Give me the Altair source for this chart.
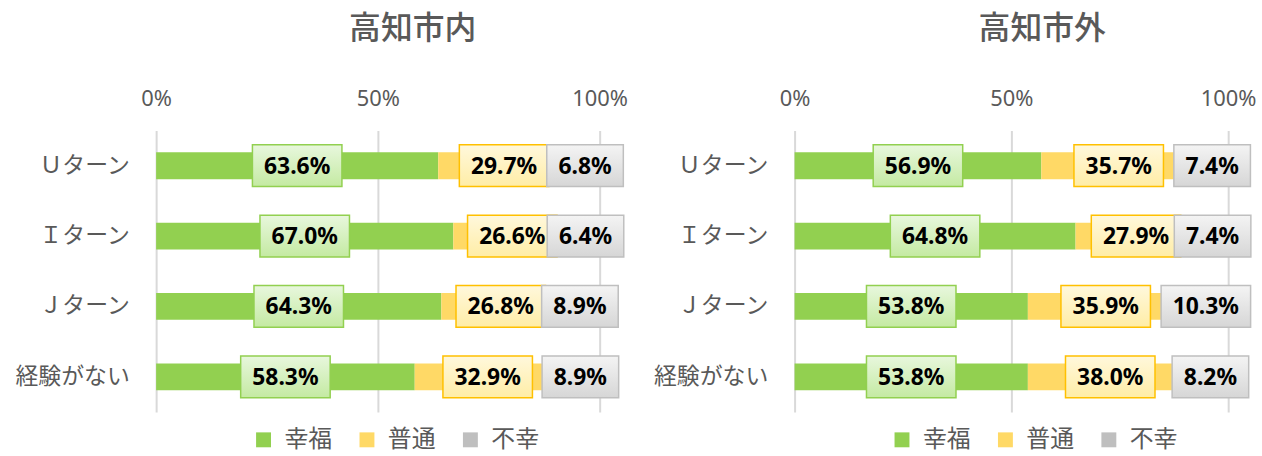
import altair as alt
import pandas as pd

categories = ["Ｕターン", "Ｉターン", "Ｊターン", "経験がない"]
series = ["幸福", "普通", "不幸"]
inner_happy = [63.6, 67.0, 64.3, 58.3]
inner_normal = [29.7, 26.6, 26.8, 32.9]
inner_unhappy = [6.8, 6.4, 8.9, 8.9]
outer_happy = [56.9, 64.8, 53.8, 53.8]
outer_normal = [35.7, 27.9, 35.9, 38.0]
outer_unhappy = [7.4, 7.4, 10.3, 8.2]
titles = ["高知市内", "高知市外"]
tick_values = [0, 0.5, 1.0]

bar_colors = ["#92d050", "#ffd966", "#bfbfbf"]
box_strokes = ["#92d050", "#ffc000", "#bfbfbf"]
box_grads = [("#e8f7dd", "#c4eaa2"), ("#fff8dc", "#ffeda6"), ("#f4f4f4", "#d6d6d6")]

JP = "Noto Sans CJK JP"
NUM = "Noto Sans"
GRAY = "#595959"


def make_df(h, n, u):
    rows = []
    for i, c in enumerate(categories):
        start = 0.0
        for s, vals in zip(series, [h, n, u]):
            v = vals[i] / 100.0
            rows.append({
                "cat": c, "series": s, "v": v,
                "x0": start, "x1": start + v, "mid": start + v / 2,
                "label": f"{vals[i]:.1f}%",
                "len": "long" if len(f"{vals[i]:.1f}%") >= 5 else "short",
            })
            start += v
    return pd.DataFrame(rows)


SHAPE_SHORT = "M-0.77,-0.42H0.77V0.42H-0.77Z"
SHAPE_LONG = "M-0.9,-0.42H0.9V0.42H-0.9Z"


def panel(df, title, width, dx):
    yenc = alt.Y("cat:N", sort=categories, title=None,
                 scale=alt.Scale(paddingInner=0, paddingOuter=0),
                 axis=alt.Axis(labelFontSize=23, labelColor=GRAY, labelFont=JP,
                               domain=False, ticks=False, labelPadding=27,
                               labelLimit=300))
    xscale = alt.Scale(domain=[0, 1], nice=False, clamp=False)
    bars = alt.Chart(df).mark_bar(size=27).encode(
        x=alt.X("x0:Q", scale=xscale, title=None,
                axis=alt.Axis(orient="top", values=tick_values, format="%",
                              labelFontSize=22, labelColor=GRAY, labelFont=NUM,
                              domain=False, ticks=False, labelPadding=20,
                              labelFlush=False, grid=True, gridColor="#d9d9d9",
                              gridWidth=2)),
        x2="x1:Q",
        y=yenc,
        color=alt.Color("series:N", sort=series,
                        scale=alt.Scale(domain=series, range=bar_colors),
                        legend=alt.Legend(orient="none", legendX=96, legendY=299,
                                          direction="horizontal", title=None,
                                          symbolType="square", symbolSize=225,
                                          symbolStrokeWidth=0, symbolOpacity=1,
                                          labelFontSize=24, labelColor=GRAY,
                                          labelFont=JP, columnPadding=23,
                                          labelOffset=9)),
    )
    layers = [bars]
    for s, stroke, (g1, g2) in zip(series, box_strokes, box_grads):
        boxes = alt.Chart(df).transform_filter(alt.datum.series == s).mark_point(
            filled=True, size=10000, opacity=1, strokeWidth=1.5, stroke=stroke,
            fill=alt.Gradient(gradient="linear",
                              stops=[alt.GradientStop(color=g1, offset=0),
                                     alt.GradientStop(color=g2, offset=1)],
                              x1=0, x2=0, y1=0, y2=1),
        ).encode(
            x=alt.X("mid:Q", scale=xscale),
            y=alt.Y("cat:N", sort=categories),
            shape=alt.Shape("len:N", scale=alt.Scale(domain=["short", "long"],
                                                     range=[SHAPE_SHORT, SHAPE_LONG]),
                            legend=None),
        )
        layers.append(boxes)
    texts = alt.Chart(df).mark_text(fontSize=23, fontWeight="bold", font=NUM,
                                    color="black", align="center",
                                    baseline="middle", dy=1).encode(
        x=alt.X("mid:Q", scale=xscale),
        y=alt.Y("cat:N", sort=categories),
        text="label:N",
    )
    layers.append(texts)
    return alt.layer(*layers).properties(
        width=width, height=283,
        title=alt.TitleParams(title, fontSize=32, font=JP, color=GRAY,
                              fontWeight=500, anchor="middle", dx=dx,
                              offset=42),
    )


left = panel(make_df(inner_happy, inner_normal, inner_unhappy), titles[0], 446, 35)
right = panel(make_df(outer_happy, outer_normal, outer_unhappy), titles[1], 436, 31)

chart = alt.hconcat(left, right, spacing=196, bounds="flush").resolve_scale(
    color="independent", shape="independent"
).properties(
    padding={"left": 15, "top": 12, "right": 5, "bottom": 5},
    background="white",
).configure_view(stroke=None)

chart.save("out.html", embed_options={"renderer": "svg", "actions": False})
